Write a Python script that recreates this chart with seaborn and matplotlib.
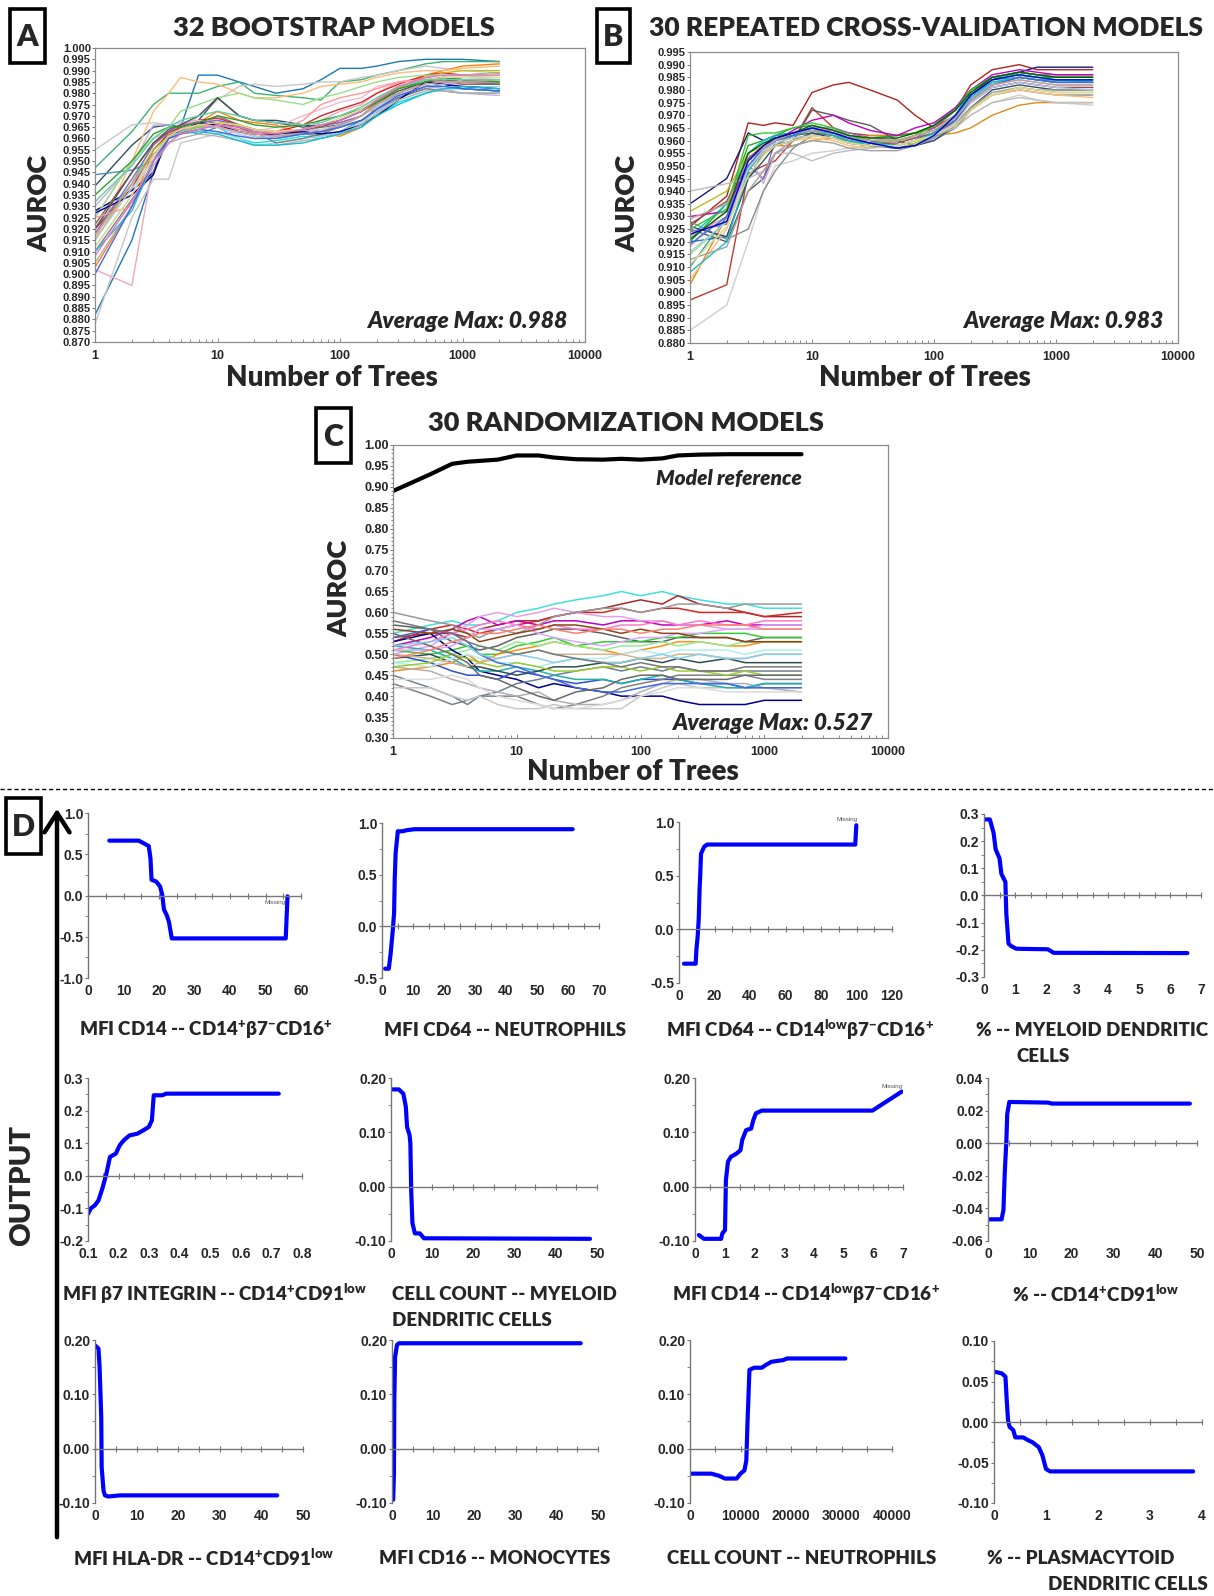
import numpy as np
import pandas as pd
import matplotlib
matplotlib.use("Agg")
import matplotlib.pyplot as plt
import seaborn as sns
from matplotlib.patches import Rectangle, FancyArrowPatch
from matplotlib.lines import Line2D
from matplotlib.ticker import MultipleLocator, FixedLocator, LogLocator, FuncFormatter, NullFormatter

# ---------------- data ----------------
trees = [1, 2, 3, 4, 5, 7, 10, 15, 20, 30, 50, 70, 100, 150, 200, 300, 500, 700, 1000, 2000]

# Panel A: 32 bootstrap models, AUROC x 1000
boot_auroc_x1000 = [
    [882, 915, 945, 963, 965, 988, 988, 985, 983, 980, 982, 986, 991, 991, 992, 994, 995, 995, 995, 994],
    [947, 963, 975, 980, 980, 980, 983, 985, 980, 979, 978, 977, 985, 986, 988, 990, 993, 994, 994, 994],
    [902, 895, 950, 960, 965, 965, 967, 966, 964, 962, 963, 968, 972, 975, 980, 985, 987, 986, 985, 986],
    [955, 966, 967, 966, 963, 970, 977, 983, 984, 983, 984, 985, 985, 987, 988, 990, 992, 991, 990, 989],
    [928, 937, 945, 962, 962, 967, 967, 965, 962, 962, 964, 963, 965, 968, 972, 978, 983, 984, 982, 981],
    [939, 957, 965, 966, 965, 968, 978, 970, 968, 968, 966, 965, 966, 970, 975, 980, 985, 987, 986, 985],
    [903, 930, 955, 962, 963, 967, 972, 968, 967, 966, 962, 962, 961, 965, 975, 982, 988, 990, 992, 993],
    [915, 950, 972, 980, 987, 985, 984, 980, 978, 978, 980, 983, 984, 985, 987, 989, 990, 990, 991, 992],
    [944, 946, 950, 963, 964, 962, 965, 963, 961, 960, 962, 961, 963, 968, 972, 980, 985, 986, 985, 984],
    [920, 940, 958, 962, 963, 965, 965, 960, 958, 959, 961, 960, 962, 966, 970, 976, 980, 982, 982, 981],
    [912, 935, 955, 960, 963, 964, 963, 960, 957, 958, 960, 961, 963, 967, 972, 978, 982, 983, 983, 983],
    [910, 933, 945, 960, 962, 966, 970, 966, 963, 958, 960, 962, 965, 968, 973, 978, 982, 981, 980, 980],
    [878, 925, 942, 942, 958, 960, 962, 963, 961, 960, 963, 964, 966, 970, 975, 980, 985, 987, 987, 988],
    [930, 948, 966, 966, 967, 968, 968, 965, 962, 961, 963, 965, 967, 970, 974, 979, 983, 982, 980, 979],
    [920, 938, 955, 962, 965, 968, 969, 966, 964, 963, 966, 970, 973, 976, 980, 984, 988, 989, 988, 989],
    [925, 950, 960, 963, 966, 968, 966, 964, 963, 965, 970, 973, 976, 978, 983, 985, 986, 987, 987, 986],
    [918, 942, 957, 963, 966, 967, 968, 966, 963, 962, 964, 966, 967, 970, 976, 982, 986, 987, 986, 985],
    [922, 945, 958, 963, 964, 966, 967, 965, 962, 962, 964, 965, 968, 972, 977, 983, 986, 985, 984, 984],
    [915, 940, 955, 961, 963, 965, 967, 966, 964, 963, 962, 963, 965, 970, 976, 982, 987, 989, 990, 990],
    [925, 950, 960, 965, 972, 975, 978, 980, 978, 977, 975, 978, 980, 983, 985, 987, 988, 988, 988, 989],
    [927, 935, 944, 962, 963, 967, 966, 963, 962, 962, 963, 962, 963, 966, 970, 977, 985, 984, 983, 982],
    [915, 938, 950, 960, 963, 966, 965, 962, 960, 961, 962, 963, 965, 970, 974, 979, 983, 984, 985, 985],
    [920, 945, 958, 964, 966, 970, 978, 970, 968, 967, 965, 966, 968, 972, 976, 981, 985, 986, 985, 985],
    [925, 930, 950, 962, 964, 966, 965, 963, 962, 963, 968, 975, 978, 980, 982, 985, 986, 985, 985, 985],
    [935, 950, 962, 965, 965, 967, 970, 968, 966, 965, 966, 968, 970, 973, 976, 982, 985, 987, 986, 985],
    [905, 930, 948, 958, 960, 962, 961, 959, 957, 957, 959, 960, 962, 966, 971, 977, 981, 981, 980, 980],
    [910, 928, 950, 960, 962, 963, 962, 959, 957, 957, 958, 960, 962, 965, 970, 975, 980, 982, 983, 982],
    [917, 940, 953, 960, 962, 964, 966, 964, 962, 961, 962, 963, 966, 970, 975, 980, 984, 985, 985, 986],
    [912, 935, 952, 961, 964, 966, 967, 966, 964, 963, 964, 966, 969, 973, 978, 983, 986, 987, 987, 987],
    [900, 930, 950, 960, 962, 964, 963, 961, 960, 960, 962, 963, 965, 968, 973, 979, 983, 983, 982, 981],
    [932, 948, 960, 965, 968, 970, 972, 970, 968, 967, 966, 967, 970, 974, 978, 983, 986, 986, 986, 986],
    [908, 932, 950, 958, 962, 964, 966, 965, 963, 962, 964, 966, 968, 972, 977, 983, 987, 988, 988, 988],
]

# Panel B: 30 repeated cross-validation models, AUROC x 1000
cv_auroc_x1000 = [
    [926, 938, 967, 966, 967, 966, 979, 982, 983, 980, 976, 970, 965, 972, 982, 988, 990, 988, 988, 988],
    [897, 903, 947, 950, 952, 960, 973, 965, 963, 962, 962, 963, 965, 970, 978, 985, 987, 986, 985, 985],
    [935, 945, 963, 960, 962, 963, 965, 964, 962, 960, 958, 960, 963, 970, 978, 984, 987, 989, 989, 989],
    [903, 930, 950, 955, 958, 958, 960, 961, 960, 962, 962, 963, 962, 963, 965, 970, 974, 975, 975, 975],
    [920, 935, 958, 960, 962, 965, 966, 964, 962, 961, 962, 963, 966, 973, 980, 985, 986, 985, 985, 985],
    [885, 895, 920, 940, 950, 952, 955, 956, 957, 958, 960, 962, 963, 966, 970, 975, 978, 976, 975, 974],
    [928, 921, 925, 940, 948, 957, 962, 963, 960, 958, 957, 958, 960, 965, 972, 978, 980, 979, 978, 978],
    [925, 920, 940, 945, 955, 960, 972, 970, 968, 966, 960, 958, 962, 968, 976, 982, 985, 984, 984, 984],
    [922, 935, 955, 960, 962, 963, 965, 962, 960, 958, 957, 958, 962, 970, 980, 985, 986, 985, 984, 983],
    [910, 930, 952, 958, 962, 963, 964, 962, 959, 958, 958, 960, 963, 970, 978, 984, 985, 984, 983, 983],
    [924, 927, 950, 945, 960, 962, 965, 965, 963, 961, 960, 961, 965, 972, 980, 985, 987, 986, 986, 986],
    [930, 932, 952, 957, 960, 964, 968, 970, 967, 964, 962, 965, 967, 973, 980, 986, 988, 987, 986, 986],
    [918, 933, 955, 943, 955, 960, 962, 963, 962, 960, 960, 962, 964, 970, 977, 982, 984, 983, 982, 982],
    [922, 930, 950, 955, 958, 962, 965, 964, 962, 961, 960, 961, 963, 968, 975, 981, 983, 982, 981, 981],
    [920, 922, 945, 955, 958, 962, 964, 963, 961, 960, 958, 960, 963, 970, 978, 983, 985, 984, 983, 983],
    [932, 940, 955, 958, 960, 961, 962, 961, 959, 958, 957, 959, 962, 966, 972, 978, 981, 980, 979, 979],
    [915, 928, 950, 957, 960, 962, 963, 962, 960, 959, 960, 962, 964, 970, 977, 983, 985, 985, 984, 984],
    [927, 936, 953, 958, 961, 962, 963, 962, 960, 959, 959, 961, 963, 968, 975, 981, 983, 982, 981, 981],
    [905, 925, 948, 955, 958, 960, 961, 960, 958, 957, 958, 960, 962, 967, 973, 978, 980, 979, 978, 977],
    [926, 922, 945, 952, 958, 960, 963, 961, 959, 958, 957, 958, 960, 966, 973, 980, 982, 981, 980, 980],
    [908, 920, 948, 956, 960, 962, 964, 962, 960, 959, 958, 960, 963, 969, 977, 983, 985, 984, 984, 984],
    [940, 943, 945, 948, 955, 955, 952, 955, 956, 957, 958, 960, 962, 965, 970, 975, 977, 976, 975, 975],
    [925, 933, 962, 963, 963, 965, 967, 965, 962, 960, 960, 962, 966, 972, 980, 985, 987, 986, 985, 985],
    [919, 930, 950, 957, 960, 962, 965, 963, 961, 959, 957, 958, 961, 968, 976, 982, 985, 984, 983, 983],
    [913, 918, 940, 948, 955, 958, 960, 959, 957, 956, 956, 958, 961, 966, 973, 979, 981, 980, 980, 980],
    [929, 935, 952, 957, 960, 963, 964, 963, 961, 960, 960, 962, 964, 969, 976, 982, 984, 983, 982, 982],
    [916, 928, 949, 956, 959, 961, 962, 961, 959, 958, 958, 960, 962, 967, 975, 981, 983, 982, 981, 980],
    [921, 932, 955, 959, 961, 963, 966, 964, 962, 961, 961, 963, 966, 972, 979, 985, 987, 986, 985, 985],
    [911, 926, 946, 954, 958, 960, 962, 961, 959, 958, 958, 960, 962, 966, 972, 978, 981, 980, 979, 979],
    [923, 928, 952, 958, 961, 963, 965, 963, 961, 959, 957, 958, 962, 970, 978, 984, 986, 985, 984, 984],
]

# Panel C: 30 randomization models, AUROC x 100
rand_auroc_x100 = [
    [55, 57, 58, 57, 57, 58, 60, 61, 62, 63, 64, 65, 64, 65, 64, 63, 62, 62, 61, 61],
    [54, 55, 55, 54, 56, 57, 58, 58, 59, 60, 61, 62, 63, 62, 64, 62, 61, 60, 59, 59],
    [53, 56, 57, 56, 55, 56, 57, 58, 59, 60, 60, 61, 60, 61, 61, 60, 60, 60, 59, 60],
    [52, 54, 56, 58, 59, 57, 58, 57, 58, 58, 57, 58, 58, 57, 57, 57, 58, 57, 57, 57],
    [50, 52, 55, 57, 59, 60, 59, 60, 61, 60, 59, 59, 58, 58, 57, 57, 56, 56, 56, 56],
    [60, 58, 57, 55, 54, 56, 55, 57, 59, 60, 61, 61, 60, 61, 62, 62, 61, 62, 62, 62],
    [57, 56, 53, 52, 51, 52, 54, 55, 56, 56, 55, 54, 53, 53, 54, 54, 54, 53, 54, 54],
    [51, 50, 51, 52, 50, 50, 52, 53, 54, 52, 53, 53, 53, 54, 54, 55, 55, 55, 54, 54],
    [46, 47, 48, 50, 48, 50, 51, 52, 53, 52, 51, 50, 51, 52, 53, 53, 52, 52, 53, 53],
    [48, 49, 50, 51, 52, 51, 53, 52, 53, 52, 51, 52, 52, 53, 52, 53, 52, 53, 53, 53],
    [53, 55, 51, 49, 46, 45, 44, 42, 43, 42, 41, 40, 40, 40, 39, 38, 38, 38, 39, 39],
    [50, 48, 46, 45, 45, 44, 46, 45, 44, 43, 44, 43, 44, 44, 44, 43, 43, 42, 43, 43],
    [45, 42, 40, 38, 40, 41, 43, 44, 45, 46, 47, 46, 47, 46, 47, 46, 46, 46, 46, 46],
    [43, 40, 38, 39, 40, 40, 40, 38, 37, 38, 40, 42, 43, 44, 45, 45, 45, 45, 44, 44],
    [42, 42, 40, 39, 40, 38, 37, 37, 38, 37, 37, 37, 40, 42, 43, 42, 42, 42, 42, 42],
    [47, 46, 44, 43, 42, 41, 40, 41, 39, 38, 38, 39, 41, 43, 44, 44, 43, 43, 42, 41],
    [52, 51, 49, 47, 46, 46, 47, 46, 45, 44, 44, 43, 44, 45, 44, 43, 42, 42, 43, 43],
    [49, 50, 48, 47, 47, 46, 45, 46, 47, 47, 48, 48, 49, 48, 49, 48, 49, 48, 48, 48],
    [48, 47, 49, 50, 49, 48, 48, 47, 48, 49, 49, 50, 51, 50, 51, 51, 51, 50, 51, 51],
    [51, 53, 55, 56, 57, 58, 57, 56, 57, 56, 56, 57, 57, 58, 57, 58, 57, 57, 58, 58],
    [51, 51, 52, 54, 56, 56, 57, 55, 54, 53, 52, 53, 54, 54, 55, 55, 56, 56, 57, 57],
    [56, 55, 56, 55, 53, 54, 55, 56, 57, 57, 56, 55, 56, 55, 55, 54, 54, 53, 53, 53],
    [50, 49, 48, 47, 48, 49, 50, 51, 50, 50, 50, 50, 49, 49, 50, 50, 49, 49, 50, 50],
    [47, 48, 50, 49, 48, 47, 48, 47, 46, 46, 47, 47, 46, 47, 46, 46, 45, 46, 45, 45],
    [54, 56, 55, 53, 50, 48, 47, 45, 44, 42, 41, 41, 42, 43, 43, 43, 43, 42, 42, 42],
    [44, 44, 45, 44, 42, 40, 39, 38, 37, 37, 38, 39, 40, 41, 42, 42, 41, 41, 41, 41],
    [55, 52, 50, 48, 45, 44, 42, 40, 39, 41, 42, 44, 45, 45, 44, 44, 44, 45, 45, 45],
    [52, 53, 54, 52, 50, 49, 50, 49, 48, 49, 48, 48, 49, 50, 49, 50, 49, 49, 50, 50],
    [49, 51, 53, 54, 55, 55, 56, 57, 56, 55, 56, 56, 55, 56, 56, 57, 57, 57, 56, 56],
    [58, 56, 55, 53, 52, 51, 50, 51, 50, 49, 48, 47, 48, 47, 47, 46, 46, 47, 47, 47],
]
reference_auroc_x1000 = [890, 930, 955, 960, 962, 965, 975, 975, 970, 966, 965, 967, 965, 968, 975, 977, 978, 978, 978, 978]

avg_max = {"A": "0.988", "B": "0.983", "C": "0.527"}

# Panel D: partial dependence curves (feature value, output)
d1_x = [6.0, 14.3, 17.1, 17.6, 17.9, 19.2, 20.3, 20.9, 21.4, 22.2, 22.8, 23.6, 55.7, 56.2]
d1_y = [0.665, 0.665, 0.60, 0.45, 0.19, 0.17, 0.11, 0.01, -0.17, -0.24, -0.32, -0.52, -0.52, -0.01]
d2_x = [1.0, 2.2, 2.8, 3.5, 3.9, 4.1, 4.4, 5.1, 6.6, 7.9, 10.5, 61.5]
d2_y = [-0.41, -0.41, -0.26, -0.03, 0.13, 0.45, 0.71, 0.92, 0.92, 0.93, 0.94, 0.94]
d3_x = [2.8, 9.4, 9.8, 10.5, 11.1, 11.6, 12.0, 12.4, 14.2, 15.9, 99.3, 99.9]
d3_y = [-0.32, -0.32, -0.19, -0.07, 0.09, 0.37, 0.52, 0.705, 0.77, 0.79, 0.79, 0.97]
d4_x = [0.0, 0.19, 0.31, 0.375, 0.5, 0.56, 0.69, 0.72, 0.79, 0.875, 1.04, 2.06, 2.25, 6.56]
d4_y = [0.28, 0.28, 0.23, 0.17, 0.137, 0.08, 0.05, -0.067, -0.177, -0.186, -0.196, -0.198, -0.211, -0.212]
d5_x = [0.1, 0.109, 0.122, 0.134, 0.147, 0.159, 0.172, 0.191, 0.204, 0.217, 0.236, 0.261, 0.280, 0.299, 0.309, 0.315, 0.343, 0.356, 0.724]
d5_y = [-0.117, -0.10, -0.091, -0.076, -0.039, 0.002, 0.058, 0.068, 0.094, 0.109, 0.124, 0.129, 0.139, 0.150, 0.170, 0.247, 0.247, 0.252, 0.252]
d6_x = [0.0, 1.9, 3.0, 3.6, 3.9, 4.5, 4.7, 4.9, 5.2, 5.8, 7.0, 8.0, 48.3]
d6_y = [0.179, 0.179, 0.171, 0.147, 0.110, 0.095, 0.080, -0.006, -0.067, -0.086, -0.086, -0.095, -0.096]
d7_x = [0.13, 0.30, 0.88, 0.92, 1.01, 1.04, 1.11, 1.21, 1.40, 1.53, 1.59, 1.72, 1.89, 1.96, 2.05, 2.25, 5.97, 6.96]
d7_y = [-0.089, -0.096, -0.096, -0.086, -0.080, 0.012, 0.046, 0.055, 0.061, 0.067, 0.086, 0.104, 0.107, 0.122, 0.135, 0.140, 0.140, 0.175]
d8_x = [0.0, 3.25, 3.7, 4.0, 4.4, 4.6, 5.1, 14.4, 15.3, 48.3]
d8_y = [-0.0467, -0.0467, -0.041, -0.0186, 0.0018, 0.018, 0.0253, 0.0249, 0.0243, 0.0243]
d9_x = [0.2, 0.84, 1.1, 1.5, 1.6, 2.05, 2.4, 3.2, 6.0, 43.8]
d9_y = [0.189, 0.184, 0.151, 0.058, -0.034, -0.077, -0.086, -0.088, -0.086, -0.086]
d10_x = [0.28, 0.47, 0.56, 0.75, 1.22, 1.69, 45.8]
d10_y = [-0.094, -0.046, 0.089, 0.169, 0.191, 0.194, 0.194]
d11_x = [230, 4230, 5770, 6920, 9230, 10000, 10770, 11150, 11380, 11770, 12690, 14230, 15000, 16150, 18460, 19230, 30770]
d11_y = [-0.046, -0.046, -0.050, -0.055, -0.055, -0.046, -0.040, -0.022, 0.046, 0.145, 0.149, 0.149, 0.154, 0.160, 0.163, 0.166, 0.166]
d12_x = [0.015, 0.15, 0.22, 0.245, 0.27, 0.30, 0.37, 0.41, 0.56, 0.67, 0.74, 0.86, 0.93, 1.0, 1.08, 3.83]
d12_y = [0.062, 0.060, 0.056, 0.027, 0.002, -0.006, -0.010, -0.019, -0.019, -0.023, -0.025, -0.031, -0.041, -0.058, -0.061, -0.061]

d_features = [
    r"MFI CD14 -- CD14$^{+}$β7$^{-}$CD16$^{+}$",
    "MFI CD64 -- NEUTROPHILS",
    r"MFI CD64 -- CD14$^{low}$β7$^{-}$CD16$^{+}$",
    "% -- MYELOID DENDRITIC\nCELLS",
    r"MFI β7 INTEGRIN -- CD14$^{+}$CD91$^{low}$",
    "CELL COUNT -- MYELOID\nDENDRITIC CELLS",
    r"MFI CD14 -- CD14$^{low}$β7$^{-}$CD16$^{+}$",
    r"% -- CD14$^{+}$CD91$^{low}$",
    r"MFI HLA-DR -- CD14$^{+}$CD91$^{low}$",
    "MFI CD16 -- MONOCYTES",
    "CELL COUNT -- NEUTROPHILS",
    "% -- PLASMACYTOID\nDENDRITIC CELLS",
]

# ---------------- style ----------------
sns.set_style("white")
plt.rcParams["font.family"] = ["Liberation Sans", "DejaVu Sans"]
plt.rcParams["font.weight"] = "bold"
plt.rcParams["axes.unicode_minus"] = False
plt.rcParams["mathtext.fontset"] = "custom"
plt.rcParams["mathtext.rm"] = "Lato:heavy"
plt.rcParams["mathtext.it"] = "Lato:heavy:italic"
plt.rcParams["mathtext.bf"] = "Lato:heavy"
plt.rcParams["mathtext.default"] = "rm"
BIG = ["Lato", "DejaVu Sans"]
BIGW = "heavy"

W, H = 1214, 1596
fig = plt.figure(figsize=(W / 100, H / 100), dpi=100)
fig.patch.set_facecolor("white")


def fx(px):
    return px / W


def fy(py):
    return 1 - py / H


def add_ax(l, t, r, b):
    return fig.add_axes([l / W, 1 - b / H, (r - l) / W, (b - t) / H])


def ftext(x, y, s, size, ha="center", va="center", style="normal", rot=0, family=BIG):
    fig.text(fx(x), fy(y), s, fontsize=size, ha=ha, va=va, fontweight=BIGW,
             fontstyle=style, rotation=rot, family=family)


def box_letter(l, t, r, b, letter):
    fig.patches.append(Rectangle((fx(l), fy(b)), (r - l) / W, (b - t) / H,
                                 transform=fig.transFigure, fill=False,
                                 ec="black", lw=2.6))
    ftext((l + r) / 2, (t + b) / 2 + 1, letter, 22)


boot_colors = ['#1f77b4', '#3cb371', '#f4a6b8', '#c8c8c8', '#000080', '#2f4f6f', '#ff7f0e', '#ffbb78',
               '#4a90b8', '#17e0e0', '#9edae5', '#7f7f7f', '#c7c7c7', '#c5b0d5', '#d62728', '#f7b6d2',
               '#9467bd', '#8c564b', '#bcbd22', '#98df8a', '#00008b', '#aec7e8', '#555555', '#ff9896',
               '#2ca02c', '#b0b0b0', '#17becf', '#c49c94', '#dbdb8d', '#4169e1', '#66cdaa', '#e377c2']
cv_colors = ['#b22222', '#c0392b', '#191970', '#e08a1e', '#2ca02c', '#cfcfcf', '#8a8a8a', '#5a5a5a',
             '#00d0d0', '#3aa0a0', '#9467bd', '#c000c0', '#c5b0d5', '#f7a1c4', '#1f77b4', '#bcbd22',
             '#98df8a', '#8c564b', '#ffbb78', '#2f4f6f', '#17becf', '#bdbdbd', '#32cd32', '#4169e1',
             '#a0a0a0', '#c49c94', '#aec7e8', '#006400', '#dbdb8d', '#0000cd']
rand_colors = ['#40e0e0', '#a52a2a', '#d62728', '#c000c0', '#e5a0e5', '#9a9a9a', '#606060', '#33cc33',
               '#ff8c1a', '#90ee90', '#00008b', '#2f4fd0', '#708090', '#808080', '#c8c8c8', '#b0b0b0',
               '#20b2aa', '#2f4f4f', '#afeeee', '#ff77cc', '#d8a8ff', '#8b4513', '#d2b48c', '#9acd32',
               '#4169e1', '#dcdcdc', '#696969', '#87ceeb', '#fa8072', '#777777']


def long_df(series, scale):
    rows = []
    for i, vals in enumerate(series):
        for t, v in zip(trees, vals):
            rows.append((f"m{i:02d}", t, v / scale))
    return pd.DataFrame(rows, columns=["model", "trees", "auroc"])


def style_auroc_axes(ax, yticks, yfmt, ysize):
    ax.set_xscale("log")
    ax.set_xlim(1, 10000)
    ax.set_ylim(yticks[0], yticks[-1])
    ax.yaxis.set_major_locator(FixedLocator(yticks))
    ax.yaxis.set_major_formatter(FuncFormatter(lambda v, p: yfmt.format(v)))
    ax.xaxis.set_major_locator(FixedLocator([1, 10, 100, 1000, 10000]))
    ax.xaxis.set_minor_locator(LogLocator(base=10, subs=np.arange(2, 10), numticks=10))
    ax.xaxis.set_major_formatter(FuncFormatter(lambda v, p: f"{v:g}"))
    ax.xaxis.set_minor_formatter(NullFormatter())
    ax.tick_params(axis="y", direction="out", length=2, width=0.7, pad=1, labelsize=ysize,
                   color="#777777", left=True)
    ax.tick_params(axis="x", which="both", direction="in", length=3, width=0.6, pad=6,
                   labelsize=9, color="#777777", bottom=True)
    ax.tick_params(axis="x", which="minor", length=2)
    for sp in ax.spines.values():
        sp.set_color("#8c8c8c")
        sp.set_linewidth(0.9)
    ax.set_xlabel("")
    ax.set_ylabel("")


def corner_text(ax, x, y, s, size):
    ax.text(x, y, s, transform=ax.transAxes, ha="right", va="center", fontsize=size,
            fontweight=BIGW, fontstyle="italic", family=BIG)


# ---------------- Panel A ----------------
axA = add_ax(95, 48, 585, 342)
dfA = long_df(boot_auroc_x1000, 1000)
sns.lineplot(data=dfA, x="trees", y="auroc", hue="model", palette=boot_colors, estimator=None,
             legend=False, lw=1.0, sort=False, ax=axA)
style_auroc_axes(axA, np.arange(870, 1001, 5) / 1000, "{:.3f}", 8)
corner_text(axA, 0.963, 0.07, "Average Max: " + avg_max["A"], 16.5)

# ---------------- Panel B ----------------
axB = add_ax(690, 52, 1178, 343)
dfB = long_df(cv_auroc_x1000, 1000)
sns.lineplot(data=dfB, x="trees", y="auroc", hue="model", palette=cv_colors, estimator=None,
             legend=False, lw=1.0, sort=False, ax=axB)
style_auroc_axes(axB, np.arange(880, 996, 5) / 1000, "{:.3f}", 8)
corner_text(axB, 0.969, 0.075, "Average Max: " + avg_max["B"], 16.5)

# ---------------- Panel C ----------------
axC = add_ax(393, 445, 888, 738)
dfC = long_df(rand_auroc_x100, 100)
sns.lineplot(data=dfC, x="trees", y="auroc", hue="model", palette=rand_colors, estimator=None,
             legend=False, lw=1.1, sort=False, ax=axC)
sns.lineplot(x=trees, y=[v / 1000 for v in reference_auroc_x1000], color="black", lw=3.0,
             estimator=None, ax=axC)
style_auroc_axes(axC, np.arange(30, 101, 5) / 100, "{:.2f}", 9)
axC.yaxis.set_minor_locator(MultipleLocator(0.01))
axC.tick_params(axis="y", which="minor", direction="out", length=1.5, color="#777777", left=True)
corner_text(axC, 0.826, 0.884, "Model reference", 15)
corner_text(axC, 0.968, 0.05, "Average Max: " + avg_max["C"], 16.5)

# titles / labels for A-C
ftext(334, 28, "32 BOOTSTRAP MODELS", 19.5)
ftext(926, 28, "30 REPEATED CROSS-VALIDATION MODELS", 19)
ftext(626, 423, "30 RANDOMIZATION MODELS", 19.5)
for cx, cy in [(332, 378), (925, 378), (633, 772)]:
    ftext(cx, cy, "Number of Trees", 20)
for cx, cy in [(39, 203), (627, 203), (339, 588)]:
    ftext(cx, cy, "AUROC", 19.5, rot=90)

box_letter(10, 9, 45, 63, "A")
box_letter(597, 9, 630, 63, "B")
box_letter(316, 408, 351, 463, "C")
box_letter(6, 798, 41, 854, "D")

# dashed separator
fig.add_artist(Line2D([0, 1], [fy(789), fy(789)], transform=fig.transFigure, color="black",
                      lw=1.0, ls=(0, (3, 2))))

# OUTPUT arrow
fig.add_artist(FancyArrowPatch((fx(57), fy(1540)), (fx(57), fy(806)), transform=fig.transFigure,
                               arrowstyle="->,head_length=0.7,head_width=0.45", mutation_scale=20,
                               lw=3.2, color="black"))
ftext(22, 1185, "OUTPUT", 21, rot=90)

# ---------------- Panel D ----------------
d_data = [(d1_x, d1_y), (d2_x, d2_y), (d3_x, d3_y), (d4_x, d4_y), (d5_x, d5_y), (d6_x, d6_y),
          (d7_x, d7_y), (d8_x, d8_y), (d9_x, d9_y), (d10_x, d10_y), (d11_x, d11_y), (d12_x, d12_y)]

# layout and axis styling for each small panel
d_boxes = [(88, 813, 301, 978), (382, 823, 599, 978), (679, 822, 892, 983), (984, 814, 1201, 977),
           (88, 1078, 302, 1241), (391, 1078, 597, 1241), (695, 1078, 903, 1241), (988, 1078, 1197, 1241),
           (95, 1340, 303, 1503), (392, 1340, 598, 1503), (690, 1340, 892, 1503), (994, 1341, 1202, 1503)]
d_axes_spec = [
    dict(xlim=(0, 60), xlab=10, xtick=5, ylim=(-1.0, 1.0), ymaj=0.5, ymin=0.25, yfmt="{:.1f}", xfmt="{:.0f}"),
    dict(xlim=(0, 70), xlab=10, xtick=5, ylim=(-0.5, 1.0), ymaj=0.5, ymin=0.25, yfmt="{:.1f}", xfmt="{:.0f}"),
    dict(xlim=(0, 120), xlab=20, xtick=10, ylim=(-0.5, 1.0), ymaj=0.5, ymin=0.25, yfmt="{:.1f}", xfmt="{:.0f}"),
    dict(xlim=(0, 7), xlab=1, xtick=0.5, ylim=(-0.3, 0.3), ymaj=0.1, ymin=0.05, yfmt="{:.1f}", xfmt="{:.0f}"),
    dict(xlim=(0.1, 0.8), xlab=0.1, xtick=0.05, ylim=(-0.2, 0.3), ymaj=0.1, ymin=0.05, yfmt="{:.1f}", xfmt="{:.1f}"),
    dict(xlim=(0, 50), xlab=10, xtick=5, ylim=(-0.1, 0.2), ymaj=0.1, ymin=0.05, yfmt="{:.2f}", xfmt="{:.0f}"),
    dict(xlim=(0, 7), xlab=1, xtick=0.5, ylim=(-0.1, 0.2), ymaj=0.1, ymin=0.05, yfmt="{:.2f}", xfmt="{:.0f}"),
    dict(xlim=(0, 50), xlab=10, xtick=5, ylim=(-0.06, 0.04), ymaj=0.02, ymin=0.01, yfmt="{:.2f}", xfmt="{:.0f}"),
    dict(xlim=(0, 50), xlab=10, xtick=5, ylim=(-0.1, 0.2), ymaj=0.1, ymin=0.05, yfmt="{:.2f}", xfmt="{:.0f}"),
    dict(xlim=(0, 50), xlab=10, xtick=5, ylim=(-0.1, 0.2), ymaj=0.1, ymin=0.05, yfmt="{:.2f}", xfmt="{:.0f}"),
    dict(xlim=(0, 40000), xlab=10000, xtick=5000, ylim=(-0.1, 0.2), ymaj=0.1, ymin=0.05, yfmt="{:.2f}", xfmt="{:.0f}"),
    dict(xlim=(0, 4), xlab=1, xtick=0.5, ylim=(-0.1, 0.1), ymaj=0.05, ymin=0.025, yfmt="{:.2f}", xfmt="{:.0f}"),
]
missing_notes = {0: (55.8, -0.06, "right", "top"), 2: (100.5, 1.0, "right", "bottom"),
                 6: (7.0, 0.18, "right", "bottom")}


def clean_fmt(fmt):
    def f(v, p):
        s = fmt.format(v)
        if s.startswith("-") and float(s) == 0:
            s = s[1:]
        return s
    return FuncFormatter(f)


def range_ticks(lo, hi, step):
    n = int(round((hi - lo) / step))
    return [round(lo + k * step, 10) for k in range(n + 1)]


for i, ((xs, ys), box, sp) in enumerate(zip(d_data, d_boxes, d_axes_spec)):
    ax = add_ax(*box)
    sns.lineplot(x=xs, y=ys, color="#0000ff", lw=3.0, estimator=None, sort=False, ax=ax)
    ax.set_xlim(*sp["xlim"])
    ax.set_ylim(*sp["ylim"])
    ax.spines["top"].set_visible(False)
    ax.spines["right"].set_visible(False)
    ax.spines["bottom"].set_position(("data", 0))
    for s in ("left", "bottom"):
        ax.spines[s].set_color("#777777")
        ax.spines[s].set_linewidth(1.0)
    ax.xaxis.set_major_locator(FixedLocator(range_ticks(*sp["xlim"], sp["xtick"])))
    ax.xaxis.set_major_formatter(NullFormatter())
    ax.tick_params(axis="x", direction="inout", length=4, width=0.8, color="#777777", bottom=True)
    ax.yaxis.set_major_locator(FixedLocator(range_ticks(*sp["ylim"], sp["ymaj"])))
    ax.yaxis.set_minor_locator(FixedLocator(range_ticks(*sp["ylim"], sp["ymin"])))
    ax.yaxis.set_major_formatter(clean_fmt(sp["yfmt"]))
    ax.tick_params(axis="y", which="major", direction="out", length=2.5, width=0.8, pad=1,
                   labelsize=10, color="#777777", left=True)
    ax.tick_params(axis="y", which="minor", direction="out", length=2, width=0.6,
                   color="#777777", left=True)
    ax.set_xlabel("")
    ax.set_ylabel("")
    sec = ax.secondary_xaxis("bottom")
    sec.xaxis.set_major_locator(FixedLocator(range_ticks(*sp["xlim"], sp["xlab"])))
    sec.xaxis.set_major_formatter(clean_fmt(sp["xfmt"]))
    sec.tick_params(axis="x", length=0, pad=4, labelsize=10)
    sec.spines["bottom"].set_visible(False)
    if i in missing_notes:
        mx, my, mha, mva = missing_notes[i]
        ax.text(mx, my, "Missing", fontsize=4.5, color="#555555", ha=mha, va=mva, fontweight="normal")

# feature labels
LBL = 13.5
label_pos = [
    (206, 1030, "center"), (505, 1030, "center"), (800, 1030, "center"), None,
    (215, 1294, "center"), None, (806, 1294, "center"), (1096, 1294, "center"),
    (204, 1558, "center"), (495, 1558, "center"), (802, 1558, "center"), None,
]
for i, pos in enumerate(label_pos):
    if pos is None:
        continue
    ftext(pos[0], pos[1], d_features[i], LBL, ha=pos[2])

# two-line labels drawn line by line to match their alignment
l4a, l4b = d_features[3].split("\n")
ftext(1208, 1030, l4a, LBL, ha="right")
ftext(1043, 1056, l4b, LBL)
l6a, l6b = d_features[5].split("\n")
ftext(392, 1294, l6a, LBL, ha="left")
ftext(392, 1321, l6b, LBL, ha="left")
l12a, l12b = d_features[11].split("\n")
ftext(1081, 1558, l12a, LBL)
ftext(1208, 1584, l12b, LBL, ha="right")

fig.savefig("out.png", dpi=100, facecolor="white")
